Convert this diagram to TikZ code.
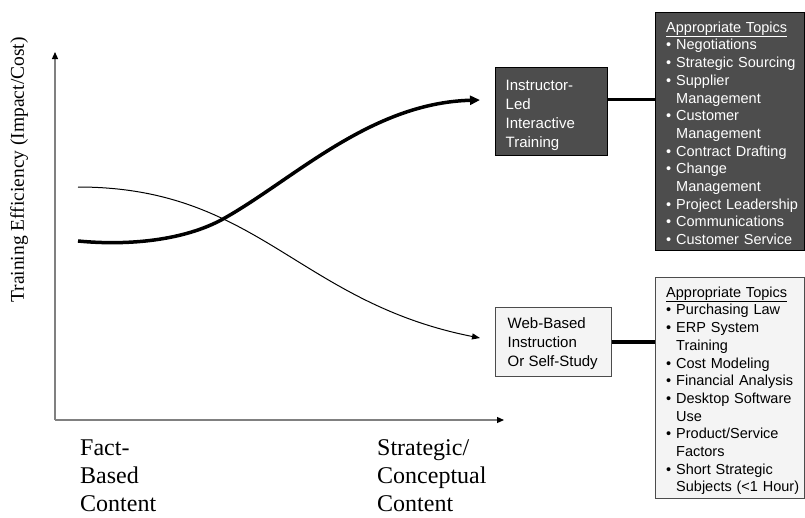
\documentclass[tikz,border=0pt]{standalone}
\usepackage{fontspec}
\setmainfont{Liberation Serif}
\setsansfont{Liberation Sans}
\usetikzlibrary{arrows.meta}
\definecolor{darkfill}{HTML}{4D4D4D}
\definecolor{lightfill}{HTML}{F4F4F4}
\definecolor{axisgray}{HTML}{808080}
\newcommand\tbul{\makebox[10pt][l]{•}}
\newcommand\tcont{\hspace*{10pt}}
\begin{document}
\begin{tikzpicture}[x=1pt,y=-1pt,
  axisline/.style={draw=axisgray,line width=1.2pt,-{Triangle[length=7pt,width=6pt,color=black]}},
  serifbig/.style={font=\fontsize{24}{28}\selectfont,align=left,inner sep=0pt},
  darkbox/.style={draw=black,line width=0.8pt,fill=darkfill,anchor=north west,inner sep=0pt},
  lightbox/.style={draw=black!70,line width=0.8pt,fill=lightfill,anchor=north west,inner sep=0pt},
  boxtext/.style={font=\sffamily\fontsize{15}{19}\selectfont,align=left,anchor=north west,inner sep=0pt},
  topictext/.style={font=\sffamily\fontsize{14.5}{17.7}\selectfont,align=left,anchor=north west,inner sep=0pt,text width=128pt},
  conn/.style={draw=black,line width=3.5pt},
  thickcurve/.style={line width=3.5pt,-{Triangle[length=10pt,width=9pt]}},
  thincurve/.style={line width=1pt,-{Triangle[length=8pt,width=6pt]}}
]
\useasboundingbox (0,0) rectangle (805,517);

% axes
\coordinate (origin) at (55,420);
\coordinate (ytop) at (55,52);
\coordinate (xend) at (504,420);
\draw[axisline] (origin) -- (ytop);
\draw[axisline] (origin) -- (xend);

% axis labels
\node[rotate=90,font=\fontsize{19.5}{22}\selectfont,inner sep=0pt] (ylab) at (19,170) {Training Efficiency (Impact/Cost)};
\node[serifbig,anchor=west] (fact) at (80,476) {Fact-\\Based\\Content};
\node[serifbig,anchor=west] (strat) at (377,476) {Strategic/\\Conceptual\\Content};

% boxes
\node[darkbox,minimum width=112pt,minimum height=88pt] (ilt) at (495,67) {};
\node[boxtext,text=white] (ilttext) at (505.5,79.5) {Instructor-\\Led\\Interactive\\Training};
\node[lightbox,minimum width=116pt,minimum height=69pt] (wbi) at (495,307) {};
\node[boxtext,text=black] (wbitext) at (507.5,317.5) {Web-Based\\Instruction\\Or Self-Study};

\node[darkbox,minimum width=149pt,minimum height=238pt] (topics1) at (655,12) {};
\node[topictext,text=white] (topics1text) at (666,21.5)
  {\underline{Appropriate Topics}\\
   \mbox{\tbul Negotiations}\\
   \mbox{\tbul Strategic Sourcing}\\
   \mbox{\tbul Supplier}\\
   \mbox{\tcont Management}\\
   \mbox{\tbul Customer}\\
   \mbox{\tcont Management}\\
   \mbox{\tbul Contract Drafting}\\
   \mbox{\tbul Change}\\
   \mbox{\tcont Management}\\
   \mbox{\tbul Project Leadership}\\
   \mbox{\tbul Communications}\\
   \mbox{\tbul Customer Service}};

\node[lightbox,minimum width=149pt,minimum height=221pt] (topics2) at (655,277) {};
\node[topictext,text=black] (topics2text) at (666,286.5)
  {\underline{Appropriate Topics}\\
   \mbox{\tbul Purchasing Law}\\
   \mbox{\tbul ERP System}\\
   \mbox{\tcont Training}\\
   \mbox{\tbul Cost Modeling}\\
   \mbox{\tbul Financial Analysis}\\
   \mbox{\tbul Desktop Software}\\
   \mbox{\tcont Use}\\
   \mbox{\tbul Product/Service}\\
   \mbox{\tcont Factors}\\
   \mbox{\tbul Short Strategic}\\
   \mbox{\tcont Subjects (<1 Hour)}};

% connectors
\draw[conn] ([yshift=12pt]ilt.east) coordinate (c1) -- (c1 -| topics1.west);
\draw[conn] (wbi.east) -- (wbi.east -| topics2.west);

% curves
\coordinate (thickstart) at (78,241);
\coordinate (thickmid) at (223,219);
\coordinate (thickend) at (480,100);
\coordinate (thinstart) at (78,187);
\coordinate (thinend) at (480,338);
\draw[thickcurve] (thickstart) .. controls (130,246) and (185,240) .. (thickmid)
   .. controls (293,180) and (370,103) .. (thickend);
\draw[thincurve] (thinstart) .. controls (258,187) and (298,302) .. (thinend);
\end{tikzpicture}
\end{document}
